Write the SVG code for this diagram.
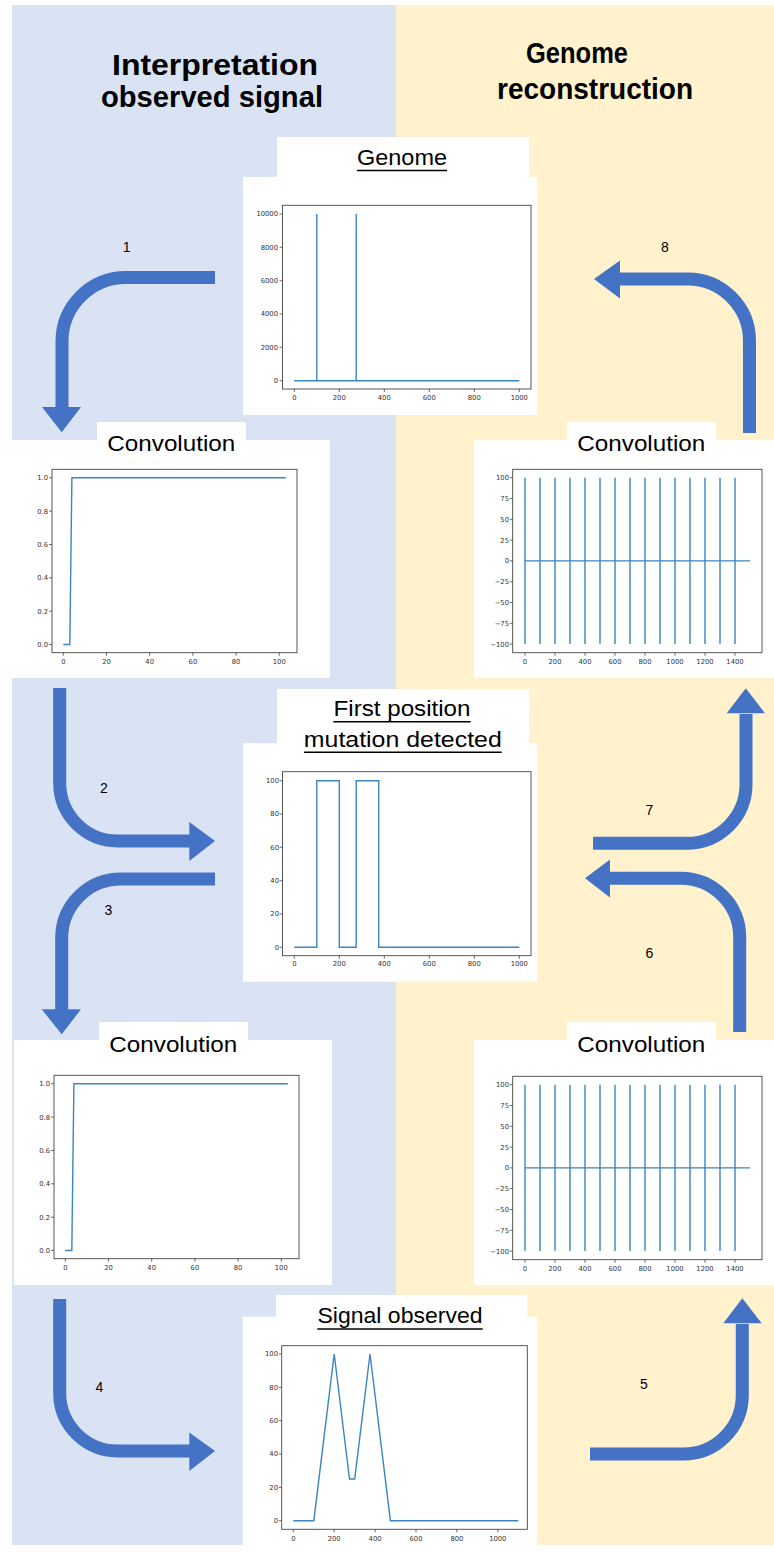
<svg xmlns="http://www.w3.org/2000/svg" width="774" height="1552" viewBox="0 0 774 1552">
<style>
.hdr{font-family:"Liberation Sans",Arial,sans-serif;font-weight:bold;font-size:30px;fill:#000;text-anchor:middle}
.ttl{font-family:"Liberation Sans",Arial,sans-serif;font-size:22px;fill:#000;text-anchor:middle}
.num{font-family:"Liberation Sans",Arial,sans-serif;font-size:14px;fill:#000;text-anchor:middle}
.ul{stroke:#000;stroke-width:1.4}
.box{fill:#fff}
.frame{fill:none;stroke:#444;stroke-width:0.9}
.tk{stroke:#444;stroke-width:0.8}
.yl{font-family:"DejaVu Sans",sans-serif;font-size:6.8px;fill:#333;text-anchor:end}
.xl{font-family:"DejaVu Sans",sans-serif;font-size:6.8px;fill:#333;text-anchor:middle}
.data{fill:none;stroke:#3a85c2;stroke-width:1.4;stroke-linejoin:miter}
.arr{fill:none;stroke:#4472C4;stroke-width:13}
.head{fill:#4472C4}
</style>
<g id="background">
<rect x="12" y="5" width="384" height="1540" fill="#DAE3F3"/>
<rect x="396" y="5" width="378" height="1540" fill="#FFF2CC"/>
</g>
<g id="header-left">
<text class="hdr" x="215" y="75" textLength="206" lengthAdjust="spacingAndGlyphs">Interpretation</text>
<text class="hdr" x="212" y="107" textLength="222" lengthAdjust="spacingAndGlyphs">observed signal</text>
</g>
<g id="header-right">
<text class="hdr" x="577" y="63" textLength="102" lengthAdjust="spacingAndGlyphs">Genome</text>
<text class="hdr" x="595" y="99" textLength="196" lengthAdjust="spacingAndGlyphs">reconstruction</text>
</g>

<g id="genome">
<rect class="box" x="277" y="137" width="252" height="40"/>
<rect class="box" x="243" y="177" width="294" height="238"/>
<text class="ttl" x="402" y="165" textLength="90" lengthAdjust="spacingAndGlyphs">Genome</text>
<line class="ul" x1="357" y1="170.5" x2="447" y2="170.5"/>
<rect class="frame" x="282.5" y="205.3" width="248.5" height="183.7"/>
<path class="tk" d="M279.5,214H282.5M279.5,247.3H282.5M279.5,280.7H282.5M279.5,314H282.5M279.5,347.3H282.5M279.5,380.7H282.5M294.3,389V392M339.3,389V392M384.3,389V392M429.3,389V392M474.3,389V392M519.3,389V392"/>
<text class="yl" x="278" y="216.4">10000</text>
<text class="yl" x="278" y="249.7">8000</text>
<text class="yl" x="278" y="283.1">6000</text>
<text class="yl" x="278" y="316.4">4000</text>
<text class="yl" x="278" y="349.7">2000</text>
<text class="yl" x="278" y="383.1">0</text>
<text class="xl" x="294.3" y="399.5">0</text>
<text class="xl" x="339.3" y="399.5">200</text>
<text class="xl" x="384.3" y="399.5">400</text>
<text class="xl" x="429.3" y="399.5">600</text>
<text class="xl" x="474.3" y="399.5">800</text>
<text class="xl" x="519.3" y="399.5">1000</text>
<path class="data" d="M294.3,380.7H519.3M316.8,380.7V214M356.2,380.7V214"/>
</g>

<g id="conv-left-top">
<rect class="box" x="97" y="422" width="149" height="18"/>
<rect class="box" x="12" y="440" width="318" height="238"/>
<text class="ttl" x="171.3" y="450.7" textLength="128" lengthAdjust="spacingAndGlyphs">Convolution</text>
<rect class="frame" x="52" y="469.3" width="245" height="183.4"/>
<path class="tk" d="M49,477.8H52M49,511.1H52M49,544.5H52M49,577.8H52M49,611.2H52M49,644.5H52M63.3,652.7V655.7M106.5,652.7V655.7M149.7,652.7V655.7M192.9,652.7V655.7M236.1,652.7V655.7M279.3,652.7V655.7"/>
<text class="yl" x="48" y="480.2">1.0</text>
<text class="yl" x="48" y="513.5">0.8</text>
<text class="yl" x="48" y="546.9">0.6</text>
<text class="yl" x="48" y="580.2">0.4</text>
<text class="yl" x="48" y="613.6">0.2</text>
<text class="yl" x="48" y="646.9">0.0</text>
<text class="xl" x="63.3" y="663.5">0</text>
<text class="xl" x="106.5" y="663.5">20</text>
<text class="xl" x="149.7" y="663.5">40</text>
<text class="xl" x="192.9" y="663.5">60</text>
<text class="xl" x="236.1" y="663.5">80</text>
<text class="xl" x="279.3" y="663.5">100</text>
<path class="data" d="M63.3,644.5H69.8L71.9,477.8H285.8"/>
</g>

<g id="conv-right-top">
<rect class="box" x="567" y="422" width="149" height="18"/>
<rect class="box" x="474" y="440" width="300" height="238"/>
<text class="ttl" x="641.3" y="450.7" textLength="128" lengthAdjust="spacingAndGlyphs">Convolution</text>
<rect class="frame" x="512.7" y="469.3" width="249.3" height="183.4"/>
<path class="tk" d="M509.7,477.7H512.7M509.7,498.5H512.7M509.7,519.3H512.7M509.7,540.1H512.7M509.7,560.9H512.7M509.7,581.7H512.7M509.7,602.5H512.7M509.7,623.3H512.7M509.7,644.1H512.7M525,652.7V655.7M555,652.7V655.7M585,652.7V655.7M615,652.7V655.7M645,652.7V655.7M675,652.7V655.7M705,652.7V655.7M735,652.7V655.7"/>
<text class="yl" x="509" y="480.1">100</text>
<text class="yl" x="509" y="500.9">75</text>
<text class="yl" x="509" y="521.7">50</text>
<text class="yl" x="509" y="542.5">25</text>
<text class="yl" x="509" y="563.3">0</text>
<text class="yl" x="509" y="584.1">−25</text>
<text class="yl" x="509" y="604.9">−50</text>
<text class="yl" x="509" y="625.7">−75</text>
<text class="yl" x="509" y="646.5">−100</text>
<text class="xl" x="525" y="663.5">0</text>
<text class="xl" x="555" y="663.5">200</text>
<text class="xl" x="585" y="663.5">400</text>
<text class="xl" x="615" y="663.5">600</text>
<text class="xl" x="645" y="663.5">800</text>
<text class="xl" x="675" y="663.5">1000</text>
<text class="xl" x="705" y="663.5">1200</text>
<text class="xl" x="735" y="663.5">1400</text>
<path class="data" d="M525,560.9H750M525,477.7V644.1M540,477.7V644.1M555,477.7V644.1M570,477.7V644.1M585,477.7V644.1M600,477.7V644.1M615,477.7V644.1M630,477.7V644.1M645,477.7V644.1M660,477.7V644.1M675,477.7V644.1M690,477.7V644.1M705,477.7V644.1M720,477.7V644.1M735,477.7V644.1"/>
</g>

<g id="first-position">
<rect class="box" x="277" y="689" width="252" height="55"/>
<rect class="box" x="243" y="743.3" width="294" height="238.4"/>
<text class="ttl" x="402" y="716" textLength="137" lengthAdjust="spacingAndGlyphs">First position</text>
<line class="ul" x1="333.3" y1="721.7" x2="470.7" y2="721.7"/>
<text class="ttl" x="402.8" y="747.3" textLength="198" lengthAdjust="spacingAndGlyphs">mutation detected</text>
<line class="ul" x1="304" y1="752.3" x2="501.7" y2="752.3"/>
<rect class="frame" x="282.5" y="771.7" width="248.5" height="184"/>
<path class="tk" d="M279.5,780.7H282.5M279.5,814H282.5M279.5,847.3H282.5M279.5,880.7H282.5M279.5,914H282.5M279.5,947.3H282.5M294.3,955.7V958.7M339.3,955.7V958.7M384.3,955.7V958.7M429.3,955.7V958.7M474.3,955.7V958.7M519.3,955.7V958.7"/>
<text class="yl" x="279" y="783.1">100</text>
<text class="yl" x="279" y="816.4">80</text>
<text class="yl" x="279" y="849.7">60</text>
<text class="yl" x="279" y="883.1">40</text>
<text class="yl" x="279" y="916.4">20</text>
<text class="yl" x="279" y="949.7">0</text>
<text class="xl" x="294.3" y="966.4">0</text>
<text class="xl" x="339.3" y="966.4">200</text>
<text class="xl" x="384.3" y="966.4">400</text>
<text class="xl" x="429.3" y="966.4">600</text>
<text class="xl" x="474.3" y="966.4">800</text>
<text class="xl" x="519.3" y="966.4">1000</text>
<path class="data" d="M294.3,947.3H316.8V780.7H339.3V947.3H356.2V780.7H378.7V947.3H519.3"/>
</g>

<g id="conv-left-bottom">
<rect class="box" x="99" y="1022" width="149" height="18"/>
<rect class="box" x="14" y="1040" width="318" height="245"/>
<text class="ttl" x="173.3" y="1051.5" textLength="128" lengthAdjust="spacingAndGlyphs">Convolution</text>
<rect class="frame" x="54" y="1075.3" width="245" height="183.4"/>
<path class="tk" d="M51,1083.8H54M51,1117.1H54M51,1150.5H54M51,1183.8H54M51,1217.2H54M51,1250.5H54M65.3,1258.7V1261.7M108.5,1258.7V1261.7M151.7,1258.7V1261.7M194.9,1258.7V1261.7M238.1,1258.7V1261.7M281.3,1258.7V1261.7"/>
<text class="yl" x="50" y="1086.2">1.0</text>
<text class="yl" x="50" y="1119.5">0.8</text>
<text class="yl" x="50" y="1152.9">0.6</text>
<text class="yl" x="50" y="1186.2">0.4</text>
<text class="yl" x="50" y="1219.6">0.2</text>
<text class="yl" x="50" y="1252.9">0.0</text>
<text class="xl" x="65.3" y="1269.5">0</text>
<text class="xl" x="108.5" y="1269.5">20</text>
<text class="xl" x="151.7" y="1269.5">40</text>
<text class="xl" x="194.9" y="1269.5">60</text>
<text class="xl" x="238.1" y="1269.5">80</text>
<text class="xl" x="281.3" y="1269.5">100</text>
<path class="data" d="M65.3,1250.5H71.8L73.9,1083.8H287.8"/>
</g>

<g id="conv-right-bottom">
<rect class="box" x="567" y="1022" width="149" height="18"/>
<rect class="box" x="474" y="1040" width="300" height="245"/>
<text class="ttl" x="641.3" y="1051.5" textLength="128" lengthAdjust="spacingAndGlyphs">Convolution</text>
<rect class="frame" x="512.7" y="1076.3" width="249.3" height="183.4"/>
<path class="tk" d="M509.7,1084.7H512.7M509.7,1105.5H512.7M509.7,1126.3H512.7M509.7,1147.1H512.7M509.7,1167.9H512.7M509.7,1188.7H512.7M509.7,1209.5H512.7M509.7,1230.3H512.7M509.7,1251.1H512.7M525,1259.7V1262.7M555,1259.7V1262.7M585,1259.7V1262.7M615,1259.7V1262.7M645,1259.7V1262.7M675,1259.7V1262.7M705,1259.7V1262.7M735,1259.7V1262.7"/>
<text class="yl" x="509" y="1087.1">100</text>
<text class="yl" x="509" y="1107.9">75</text>
<text class="yl" x="509" y="1128.7">50</text>
<text class="yl" x="509" y="1149.5">25</text>
<text class="yl" x="509" y="1170.3">0</text>
<text class="yl" x="509" y="1191.1">−25</text>
<text class="yl" x="509" y="1211.9">−50</text>
<text class="yl" x="509" y="1232.7">−75</text>
<text class="yl" x="509" y="1253.5">−100</text>
<text class="xl" x="525" y="1270.5">0</text>
<text class="xl" x="555" y="1270.5">200</text>
<text class="xl" x="585" y="1270.5">400</text>
<text class="xl" x="615" y="1270.5">600</text>
<text class="xl" x="645" y="1270.5">800</text>
<text class="xl" x="675" y="1270.5">1000</text>
<text class="xl" x="705" y="1270.5">1200</text>
<text class="xl" x="735" y="1270.5">1400</text>
<path class="data" d="M525,1167.9H750M525,1084.7V1251.1M540,1084.7V1251.1M555,1084.7V1251.1M570,1084.7V1251.1M585,1084.7V1251.1M600,1084.7V1251.1M615,1084.7V1251.1M630,1084.7V1251.1M645,1084.7V1251.1M660,1084.7V1251.1M675,1084.7V1251.1M690,1084.7V1251.1M705,1084.7V1251.1M720,1084.7V1251.1M735,1084.7V1251.1"/>
</g>

<g id="signal-observed">
<rect class="box" x="276" y="1295" width="251.3" height="22"/>
<rect class="box" x="242.7" y="1316.7" width="294.3" height="231.3"/>
<text class="ttl" x="400" y="1323.3" textLength="165" lengthAdjust="spacingAndGlyphs">Signal observed</text>
<line class="ul" x1="317.3" y1="1329" x2="482.7" y2="1329"/>
<rect class="frame" x="281.7" y="1345.7" width="245.6" height="183.6"/>
<path class="tk" d="M278.7,1354H281.7M278.7,1387.3H281.7M278.7,1420.7H281.7M278.7,1454H281.7M278.7,1487.3H281.7M278.7,1520.7H281.7M293.3,1529.3V1532.3M334.2,1529.3V1532.3M375.1,1529.3V1532.3M416,1529.3V1532.3M456.9,1529.3V1532.3M497.8,1529.3V1532.3"/>
<text class="yl" x="278" y="1356.4">100</text>
<text class="yl" x="278" y="1389.7">80</text>
<text class="yl" x="278" y="1423.1">60</text>
<text class="yl" x="278" y="1456.4">40</text>
<text class="yl" x="278" y="1489.7">20</text>
<text class="yl" x="278" y="1523.1">0</text>
<text class="xl" x="293.3" y="1540.6">0</text>
<text class="xl" x="334.2" y="1540.6">200</text>
<text class="xl" x="375.1" y="1540.6">400</text>
<text class="xl" x="416" y="1540.6">600</text>
<text class="xl" x="456.9" y="1540.6">800</text>
<text class="xl" x="497.8" y="1540.6">1000</text>
<path class="data" d="M293.3,1520.7H313.8L334.2,1354L349.5,1479H354.7L370,1354L390.4,1520.7H518.3"/>
</g>

<g id="connectors">
<path class="arr" d="M215,277.5H126A64,64 0 0 0 62,341.5V408"/>
<polygon class="head" points="42,407 81,407 61.7,432.3"/>
<path class="arr" d="M749.5,433V341A62,62 0 0 0 687.5,279H619"/>
<polygon class="head" points="620,260.5 620,298.5 594,279"/>
<path class="arr" d="M59.7,688V783A58,58 0 0 0 117.7,841H190"/>
<polygon class="head" points="189.3,822 189.3,861 215,841"/>
<path class="arr" d="M215,879H120.7A59,59 0 0 0 61.7,938V1010"/>
<polygon class="head" points="41.7,1009.3 81,1009.3 61.7,1034.3"/>
<path class="arr" d="M593,843.3H687A59,59 0 0 0 746,784.3V714"/>
<polygon class="head" points="726.7,713.3 765,713.3 745.8,688.3"/>
<path class="arr" d="M739.7,1032V937A59,59 0 0 0 680.7,878.3H610"/>
<polygon class="head" points="610,859.5 610,897.5 585,878.3"/>
<path class="arr" d="M59.7,1299V1393A58,58 0 0 0 117.7,1451H190"/>
<polygon class="head" points="189.3,1432.5 189.3,1471 215,1451"/>
<path class="arr" d="M590,1454H683A59,59 0 0 0 742.3,1395V1324"/>
<polygon class="head" points="723.3,1323.3 761.7,1323.3 742.3,1298.3"/>
<text class="num" x="126.7" y="252">1</text>
<text class="num" x="104" y="793.3">2</text>
<text class="num" x="108.3" y="915">3</text>
<text class="num" x="99.3" y="1392.3">4</text>
<text class="num" x="644" y="1389.3">5</text>
<text class="num" x="649.3" y="958.3">6</text>
<text class="num" x="649.3" y="815">7</text>
<text class="num" x="665" y="252.3">8</text>
</g>
</svg>
